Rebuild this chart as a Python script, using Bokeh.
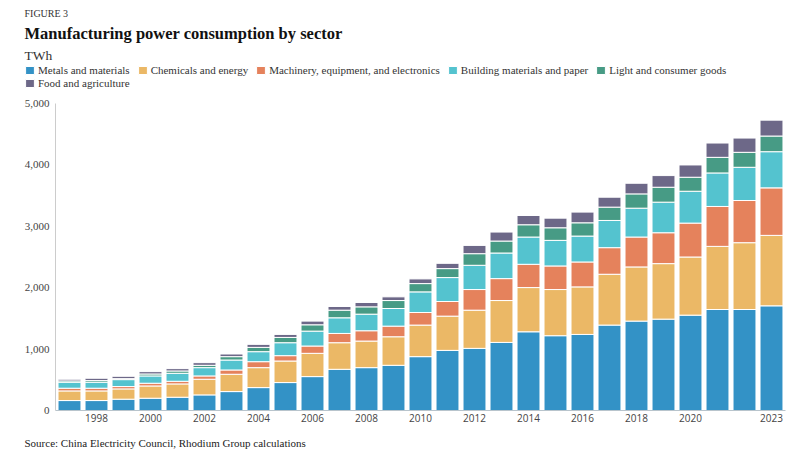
from bokeh.plotting import figure
from bokeh.models import (ColumnDataSource, Legend, LegendItem, FixedTicker,
                          NumeralTickFormatter, Range1d, Label)
from bokeh.embed import file_html
from bokeh.resources import INLINE

years = list(range(1997, 2024))
sectors = ["Metals and materials", "Chemicals and energy",
           "Machinery, equipment, and electronics", "Building materials and paper",
           "Light and consumer goods", "Food and agriculture"]
colors = ["#3392c6", "#ebb866", "#e5825c", "#54c3cf", "#479b85", "#6d6888"]

metals = [162, 162, 184, 200, 216, 254, 308, 373, 455, 552, 671, 698, 736, 877, 979,
          1012, 1109, 1282, 1218, 1239, 1391, 1456, 1488, 1553, 1645, 1645, 1705]
chemicals = [157, 157, 168, 200, 217, 255, 282, 325, 351, 379, 433, 433, 465, 514, 558,
             622, 682, 720, 752, 774, 828, 882, 904, 947, 1028, 1088, 1147]
machinery = [44, 44, 38, 44, 43, 54, 70, 97, 87, 119, 151, 168, 173, 205, 238,
             336, 357, 379, 384, 406, 433, 487, 503, 552, 650, 687, 774]
building = [97, 97, 113, 119, 130, 135, 162, 163, 211, 243, 255, 270, 287, 336, 390,
            395, 417, 444, 417, 422, 443, 470, 498, 519, 546, 541, 589]
light = [22, 27, 16, 32, 38, 38, 55, 70, 86, 103, 124, 119, 130, 135, 146,
         189, 195, 200, 205, 216, 217, 233, 243, 228, 254, 244, 255]
food = [27, 38, 38, 38, 38, 43, 43, 49, 49, 60, 60, 71, 60, 76, 86,
        135, 146, 151, 157, 174, 162, 173, 190, 200, 233, 232, 259]

x_ticks = [1998, 2000, 2002, 2004, 2006, 2008, 2010, 2012, 2014, 2016, 2018, 2020, 2023]
y_ticks = [0, 1000, 2000, 3000, 4000, 5000]
y_max = 5000

fig_label = "FIGURE 3"
title_text = "Manufacturing power consumption by sector"
unit_text = "TWh"
source_text = "Source: China Electricity Council, Rhodium Group calculations"

keys = ["metals", "chemicals", "machinery", "building", "light", "food"]
source = ColumnDataSource(dict(year=years, metals=metals, chemicals=chemicals,
                               machinery=machinery, building=building, light=light, food=food))

SERIF = "Liberation Serif"
SANS = "Open Sans"

# canvas geometry (pixels): plot area spans x 55..785, y 103 (top) .. 410 (baseline)
W, H = 800, 461
PX_YEAR = 27.0
X0_PX, FIRST_CENTER_PX = 55, 69
BASE_PX, TOP_PX = 410, 103
x_per_px = 1 / PX_YEAR
y_per_px = y_max / (BASE_PX - TOP_PX)
x_start = years[0] - FIRST_CENTER_PX * x_per_px
x_end = x_start + W * x_per_px
y_start = -(H - BASE_PX) * y_per_px
y_end = y_max + TOP_PX * y_per_px
axis_x = x_start + X0_PX * x_per_px
axis_x_end = x_start + 785 * x_per_px

p = figure(width=W, height=H, output_backend="svg", toolbar_location=None,
           x_range=Range1d(x_start, x_end), y_range=Range1d(y_start, y_end), min_border=0)
p.outline_line_color = None
p.xgrid.grid_line_color = None
p.ygrid.grid_line_color = None

renderers = p.vbar_stack(keys, x="year", width=0.85, color=colors, source=source,
                         line_color="white", line_width=1)

xa = p.xaxis[0]
xa.fixed_location = 0
xa.bounds = (axis_x, axis_x_end)
xa.ticker = FixedTicker(ticks=x_ticks)
xa.major_tick_line_color = None
xa.major_tick_out = 0
xa.major_tick_in = 0
xa.minor_tick_line_color = None
xa.axis_line_color = "#b8c4cc"
xa.major_label_text_font = SANS
xa.major_label_text_font_size = "10px"
xa.major_label_text_color = "#444444"
xa.major_label_standoff = 3

ya = p.yaxis[0]
ya.fixed_location = axis_x
ya.bounds = (0, y_max)
ya.ticker = FixedTicker(ticks=y_ticks)
ya.formatter = NumeralTickFormatter(format="0,0")
ya.major_tick_line_color = None
ya.major_tick_out = 0
ya.major_tick_in = 0
ya.minor_tick_line_color = None
ya.axis_line_color = "#cccccc"
ya.major_label_text_font = SERIF
ya.major_label_text_font_size = "11px"
ya.major_label_text_color = "#444444"
ya.major_label_standoff = 6

# legend rows (screen position: bottom-left corner, measured from the bottom)
row1 = [LegendItem(label=sectors[i], renderers=[renderers[i]]) for i in range(5)]
row2 = [LegendItem(label=sectors[5], renderers=[renderers[5]])]
for items, vy in ((row1, H - 76), (row2, H - 88.5)):
    lg = Legend(items=items, location=(24, vy), orientation="horizontal",
                glyph_width=11, glyph_height=10, label_height=10, label_standoff=3,
                spacing=7, padding=0, margin=0, border_line_color=None,
                background_fill_alpha=0, label_text_font=SERIF,
                label_text_font_size="11px", label_text_color="#333333")
    p.add_layout(lg, "center")

def add_label(text, baseline_px, size, bold=False, color="#333333"):
    p.add_layout(Label(x=24, y=H - baseline_px, x_units="screen", y_units="screen",
                       text=text, text_font=SERIF, text_font_size=size,
                       text_font_style="bold" if bold else "normal", text_color=color,
                       text_baseline="alphabetic", text_align="left"))

add_label(fig_label, 12.7, "10px")
add_label(title_text, 33.3, "16.5px", bold=True, color="#111111")
add_label(unit_text, 55, "13.5px")
add_label(source_text, 442.7, "11px", color="#222222")

open("out.html", "w").write(file_html(p, INLINE))
